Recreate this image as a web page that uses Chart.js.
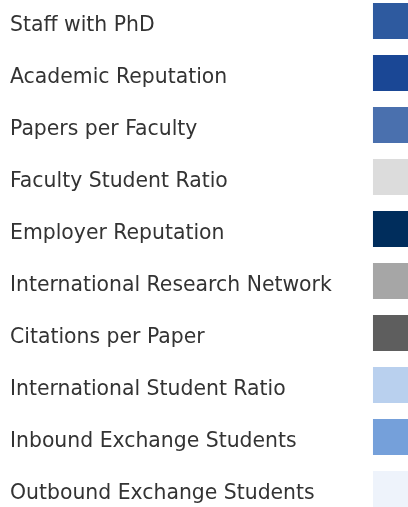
<!DOCTYPE html>
<html>
<head>
<meta charset="utf-8">
<script src="https://cdn.jsdelivr.net/npm/chart.js@4"></script>
<style>
    html, body { margin: 0; padding: 0; background: #fff; }
    #wrap { width: 408px; height: 507px; }
</style>
</head>
<body>
<div id="wrap"><canvas id="legendChart"></canvas></div>
<script>
// legend entries, top to bottom
const categories = [
    'Staff with PhD',
    'Academic Reputation',
    'Papers per Faculty',
    'Faculty Student Ratio',
    'Employer Reputation',
    'International Research Network',
    'Citations per Paper',
    'International Student Ratio',
    'Inbound Exchange Students',
    'Outbound Exchange Students'
];
const swatchColors = ['#2e5a9f', '#1a4795', '#4a70ae', '#dcdcdc', '#002d5c', '#a6a6a6', '#5e5e5e', '#b9d0ee', '#75a0da', '#eef3fb'];
// every swatch sits at the same marker value
const markerValues = [1, 1, 1, 1, 1, 1, 1, 1, 1, 1];

document.addEventListener('DOMContentLoaded', function () {
    const ctx = document.getElementById('legendChart');

    new Chart(ctx, {
        type: 'line',
        data: {
            labels: categories,
            datasets: [{
                data: markerValues,
                showLine: false,
                pointStyle: 'rect',
                pointRadius: 25.5,
                pointHoverRadius: 25.5,
                pointBorderWidth: 0,
                pointBackgroundColor: swatchColors,
                clip: false
            }]
        },
        options: {
            indexAxis: 'y',
            responsive: true,
            maintainAspectRatio: false,
            animation: false,
            events: [],
            layout: {
                autoPadding: false,
                padding: { left: 10, right: 17, top: 21, bottom: 18 }
            },
            plugins: {
                legend: { display: false },
                tooltip: { enabled: false }
            },
            scales: {
                x: { display: false, min: 0, max: 1 },
                y: {
                    type: 'category',
                    offset: false,
                    grid: { display: false, drawTicks: false },
                    border: { display: false },
                    ticks: {
                        mirror: true,
                        padding: 0,
                        labelOffset: 4.5,
                        color: '#333',
                        font: { family: 'DejaVu Sans', size: 20.4 }
                    }
                }
            }
        }
    });
});
</script>
</body>
</html>
